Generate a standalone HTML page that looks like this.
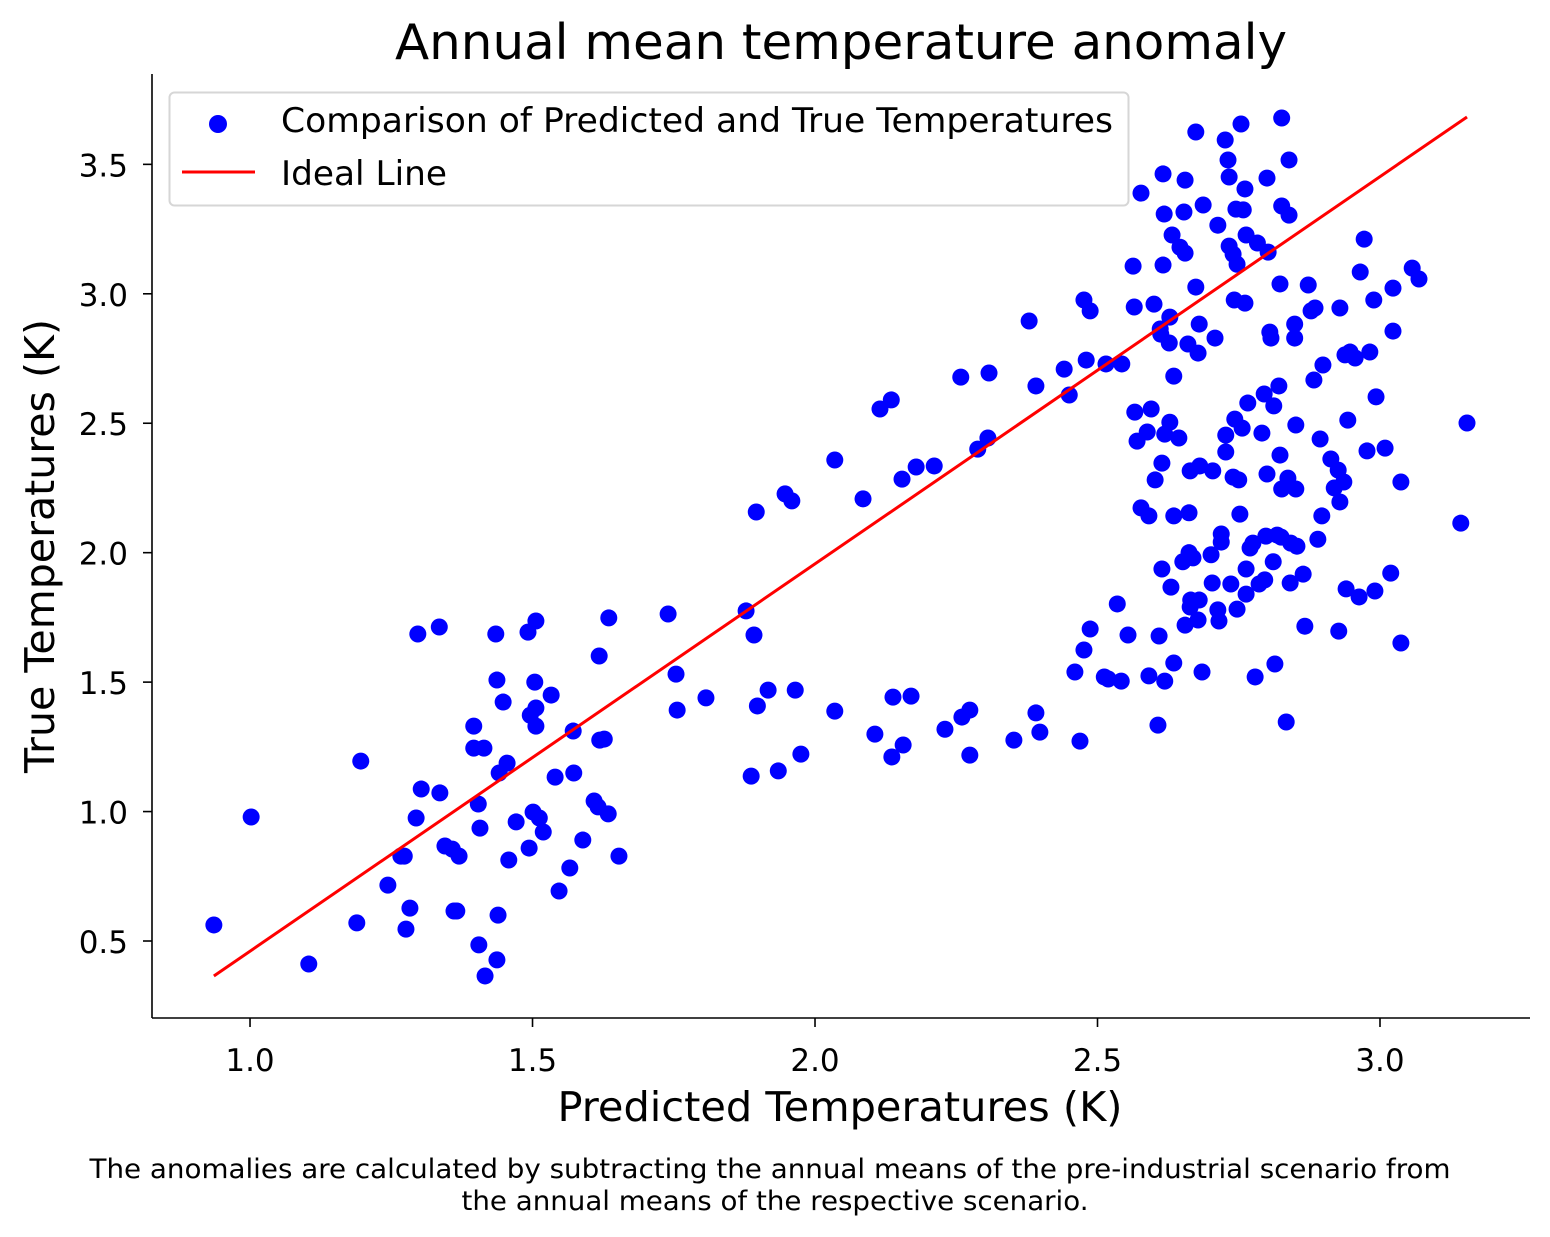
<!DOCTYPE html>
<html><head><meta charset="utf-8"><style>
html,body{margin:0;padding:0;background:#fff;}
svg{display:block;font-family:"DejaVu Sans","Liberation Sans",sans-serif;}
</style></head><body>
<svg id="chart" width="1550" height="1237" viewBox="0 0 1550 1237" xmlns="http://www.w3.org/2000/svg">
<rect width="1550" height="1237" fill="#fff"/>
<text x="841" y="59" font-size="49" text-anchor="middle" textLength="892" lengthAdjust="spacingAndGlyphs">Annual mean temperature anomaly</text>
<g id="points"></g>
<g id="line"></g>
<g id="axes"></g>
<text x="840" y="1121" font-size="41" text-anchor="middle" textLength="565" lengthAdjust="spacingAndGlyphs">Predicted Temperatures (K)</text>
<text transform="translate(54,546) rotate(-90)" font-size="41" text-anchor="middle" textLength="454" lengthAdjust="spacingAndGlyphs">True Temperatures (K)</text>
<g>
<rect x="169.5" y="92.5" width="959" height="113" rx="5" fill="#fff" fill-opacity="0.8" stroke="#d6d6d6" stroke-width="2"/>
<circle cx="218" cy="124" r="9" fill="#0000ff"/>
<text x="281" y="132" font-size="34" textLength="832" lengthAdjust="spacingAndGlyphs">Comparison of Predicted and True Temperatures</text>
<line x1="182" y1="172" x2="255" y2="172" stroke="#ff0000" stroke-width="3"/>
<text x="281" y="185" font-size="34" textLength="166" lengthAdjust="spacingAndGlyphs">Ideal Line</text>
</g>
<text x="770" y="1178" font-size="27" text-anchor="middle" textLength="1361" lengthAdjust="spacingAndGlyphs">The anomalies are calculated by subtracting the annual means of the pre-industrial scenario from</text>
<text x="775" y="1210" font-size="27" text-anchor="middle" textLength="627" lengthAdjust="spacingAndGlyphs">the annual means of the respective scenario.</text>
</svg>
<script>
const predicted = [0.936,1.002,1.104,1.196,1.189,1.244,1.267,1.273,1.276,1.283,1.294,1.297,1.303,1.335,1.336,1.345,1.358,1.361,1.370,1.366,1.396,1.396,1.405,1.414,1.404,1.407,1.416,1.435,1.437,1.437,1.439,1.441,1.448,1.455,1.458,1.471,1.492,1.494,1.496,1.501,1.506,1.504,1.506,1.506,1.512,1.519,1.533,1.540,1.547,1.566,1.572,1.573,1.589,1.609,1.618,1.616,1.619,1.627,1.634,1.635,1.653,
1.740,1.754,1.756,1.807,1.878,1.887,1.892,1.896,1.898,1.917,1.935,1.947,1.959,1.965,1.975,2.035,2.035,2.085,2.106,2.115,2.135,2.136,2.138,2.154,2.156,2.170,2.179,2.211,2.230,2.258,2.260,2.274,2.274,2.288,2.306,2.308,2.352,2.379,2.391,2.391,2.398,2.441,2.450,2.460,2.469,2.476,2.476,2.480,2.487,2.487,2.512,2.515,2.519,2.535,2.542,2.543,2.554,
2.563,2.565,2.566,2.570,2.577,2.577,2.588,2.591,2.591,2.595,2.600,2.602,2.607,2.609,2.611,2.612,2.614,2.614,2.616,2.616,2.618,2.619,2.619,2.627,2.628,2.628,2.630,2.632,2.635,2.635,2.635,2.644,2.646,2.651,2.653,2.655,2.655,2.655,2.660,2.662,2.662,2.664,2.664,2.665,2.669,2.674,2.674,2.678,2.678,2.680,2.680,2.681,2.685,2.687,2.701,2.703,2.704,2.708,2.713,2.713,2.715,2.719,2.719,2.726,2.727,2.727,2.731,2.733,2.733,2.736,2.740,2.740,2.742,2.743,2.745,2.747,2.747,2.750,2.752,2.754,2.756,2.758,2.761,2.761,2.763,2.763,2.763,2.766,2.770,2.775,2.779,2.783,2.786,2.791,2.795,2.796,2.798,2.800,2.800,2.802,2.805,2.807,2.811,2.812,2.814,2.818,2.821,2.823,2.823,2.825,2.826,2.826,2.826,2.834,2.837,2.839,2.839,2.841,2.842,2.849,2.849,2.851,2.851,2.853,2.864,2.867,2.873,2.878,2.883,2.885,2.890,2.894,2.897,2.899,2.913,2.919,2.926,2.927,2.929,2.929,2.936,2.938,2.940,2.943,2.947,2.956,2.963,2.965,2.972,2.977,2.982,2.989,2.991,2.993,3.009,3.019,3.023,3.023,3.037,3.037,3.057,3.069,3.143,3.154];
const trueTemps = [0.562,0.979,0.411,1.195,0.570,0.716,0.828,0.828,0.546,0.627,0.975,1.686,1.087,1.713,1.072,0.867,0.855,0.616,0.828,0.616,1.330,1.245,0.485,1.245,1.029,0.936,0.365,1.686,1.508,0.427,0.600,1.149,1.423,1.187,0.813,0.960,1.693,0.859,1.372,0.998,1.736,1.500,1.330,1.400,0.975,0.921,1.450,1.133,0.693,0.782,1.311,1.149,0.890,1.041,1.601,1.018,1.276,1.280,0.991,1.748,0.828,
1.763,1.531,1.392,1.439,1.775,1.137,1.682,2.157,1.408,1.469,1.157,2.227,2.200,1.469,1.222,2.358,1.388,2.208,1.299,2.555,2.590,1.211,1.442,2.284,1.257,1.446,2.331,2.335,1.318,2.678,1.365,1.392,1.218,2.400,2.443,2.694,1.276,2.895,2.644,1.381,1.307,2.709,2.609,1.539,1.272,2.976,1.624,2.744,2.934,1.705,1.520,2.729,1.512,1.802,1.504,2.729,1.682,
3.107,2.949,2.543,2.431,3.389,2.173,2.466,2.142,1.524,2.555,2.960,2.281,1.334,1.678,2.864,2.844,2.346,1.937,3.463,3.111,3.308,2.458,1.504,2.810,2.910,2.504,1.867,3.227,2.142,2.682,1.574,2.443,3.180,1.965,3.316,3.157,3.439,1.720,2.806,2.000,2.154,2.316,1.790,1.817,1.980,3.625,3.026,2.771,1.740,2.883,1.817,2.335,1.539,3.343,1.992,1.883,2.316,2.829,3.265,1.779,1.736,2.072,2.041,3.594,2.454,2.389,3.517,3.451,3.184,1.879,3.153,2.292,2.976,2.516,3.327,1.782,3.114,2.281,2.149,3.656,2.481,3.324,3.405,2.964,3.227,1.937,1.840,2.578,2.018,2.037,1.520,3.196,1.879,2.462,2.613,1.895,2.064,3.447,2.304,3.161,2.852,2.829,1.965,2.567,1.570,2.068,2.644,2.377,3.038,2.060,2.246,3.679,3.339,1.346,2.288,3.517,3.304,1.883,2.037,2.883,2.829,2.493,2.246,2.025,1.917,1.716,3.034,2.934,2.667,2.945,2.052,2.439,2.142,2.725,2.362,2.250,2.319,1.697,2.945,2.196,2.273,2.764,1.860,2.512,2.775,2.752,1.829,3.084,3.211,2.393,2.775,2.976,1.852,2.602,2.404,1.921,3.022,2.856,1.651,2.273,3.099,3.057,2.114,2.501];
const lineX = [0.936, 3.154];
const lineY = [0.365, 3.683];
const xTicks = [1.0, 1.5, 2.0, 2.5, 3.0];
const xTickLabels = ["1.0","1.5","2.0","2.5","3.0"];
const yTicks = [0.5, 1.0, 1.5, 2.0, 2.5, 3.0, 3.5];
const yTickLabels = ["0.5","1.0","1.5","2.0","2.5","3.0","3.5"];

const NS = "http://www.w3.org/2000/svg";
const L = 152, R = 1530, T = 74, B = 1018;
const X0 = 0.8265, X1 = 3.2655, Y0 = 0.2026, Y1 = 3.849;
function sx(v){ return L + (v - X0) / (X1 - X0) * (R - L); }
function sy(v){ return B - (v - Y0) / (Y1 - Y0) * (B - T); }
function mk(tag, attrs, parent){
  const e = document.createElementNS(NS, tag);
  for (const k in attrs) e.setAttribute(k, attrs[k]);
  parent.appendChild(e);
  return e;
}
const pts = document.getElementById('points');
for (let i = 0; i < predicted.length; i++){
  const c = mk('circle', {cx: sx(predicted[i]), cy: sy(trueTemps[i]), r: 8.5, fill: '#0000ff'}, pts);
  
  
}
const lg = document.getElementById('line');
const ln = mk('line', {x1: sx(lineX[0]), y1: sy(lineY[0]), x2: sx(lineX[1]), y2: sy(lineY[1]), stroke: '#ff0000', 'stroke-width': 3}, lg);



const ax = document.getElementById('axes');
const xs = mk('line', {x1: L, y1: B, x2: R, y2: B, stroke: '#000', 'stroke-width': 1.6}, ax);


const ys = mk('line', {x1: L, y1: T, x2: L, y2: B, stroke: '#000', 'stroke-width': 1.6}, ax);


xTicks.forEach((v, i) => {
  const x = sx(v);
  const t = mk('line', {x1: x, y1: B, x2: x, y2: B + 9, stroke: '#000', 'stroke-width': 1.6}, ax);
  
  
  const tx = mk('text', {x: x, y: B + 53, 'font-size': 31, 'text-anchor': 'middle'}, ax);
  tx.textContent = xTickLabels[i];
  
  
});
yTicks.forEach((v, i) => {
  const y = sy(v);
  const t = mk('line', {x1: L - 9, y1: y, x2: L, y2: y, stroke: '#000', 'stroke-width': 1.6}, ax);
  
  
  const tx = mk('text', {x: L - 24, y: y + 12, 'font-size': 31, 'text-anchor': 'end'}, ax);
  tx.textContent = yTickLabels[i];
  
  
});
</script>
</body></html>
